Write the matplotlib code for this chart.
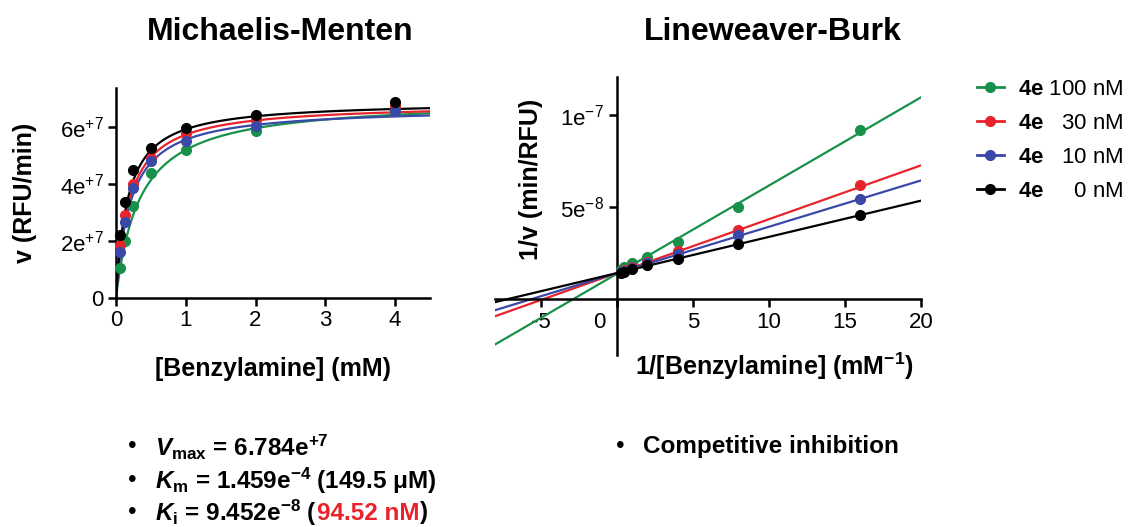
import numpy as np
import matplotlib
matplotlib.use("Agg")
import matplotlib.pyplot as plt
import matplotlib.transforms as mtransforms
from matplotlib.lines import Line2D

plt.rcParams['font.family'] = ['Liberation Sans', 'DejaVu Sans']
plt.rcParams['mathtext.fontset'] = 'custom'
plt.rcParams['mathtext.rm'] = 'Liberation Sans'
plt.rcParams['mathtext.it'] = 'Liberation Sans:italic'
plt.rcParams['mathtext.bf'] = 'Liberation Sans:bold'
plt.rcParams['mathtext.bfit'] = 'Liberation Sans:italic:bold'

# data
series = ['4e 100 nM', '4e 30 nM', '4e 10 nM', '4e 0 nM']
colors = ['#17914a', '#e8232b', '#3a48a8', '#000000']
legend_labels = ['$\\mathbf{4e}$ 100 nM', '$\\mathbf{4e}$   30 nM',
                 '$\\mathbf{4e}$   10 nM', '$\\mathbf{4e}$     0 nM']

substrate = [0.0625, 0.125, 0.25, 0.5, 1, 2, 4]  # mM

# Michaelis-Menten rates (RFU/min)
mm_green = [1.05e7, 1.99e7, 3.22e7, 4.39e7, 5.20e7, 5.85e7, 6.55e7]
mm_red = [1.85e7, 2.90e7, 4.01e7, 4.90e7, 5.79e7, 6.26e7, 6.73e7]
mm_blue = [1.60e7, 2.67e7, 3.87e7, 4.80e7, 5.50e7, 6.02e7, 6.58e7]
mm_black = [2.20e7, 3.36e7, 4.48e7, 5.25e7, 5.95e7, 6.41e7, 6.88e7]
mm_err_black = [0, 0, 0, 0, 0, 0, 0.12e7]

# fitted curves (Vmax, Km in mM) per series
fit_vmax = [6.98e7, 6.83e7, 6.70e7, 6.91e7]
fit_km = [0.343, 0.192, 0.206, 0.167]

# Lineweaver-Burk points (1/v) at 1/[S]
inv_s = [16, 8, 4, 2, 1, 0.5, 0.25]
lb_green = [9.22e-8, 5.01e-8, 3.14e-8, 2.29e-8, 1.96e-8, 1.74e-8, 1.60e-8]
lb_red = [6.19e-8, 3.74e-8, 2.60e-8, 2.05e-8, 1.78e-8, 1.60e-8, 1.50e-8]
lb_blue = [5.46e-8, 3.47e-8, 2.45e-8, 1.96e-8, 1.69e-8, 1.54e-8, 1.47e-8]
lb_black = [4.59e-8, 2.99e-8, 2.18e-8, 1.87e-8, 1.63e-8, 1.50e-8, 1.45e-8]
lb_slope = [4.80e-9, 2.93e-9, 2.52e-9, 1.97e-9]
lb_icpt = [1.38e-8, 1.42e-8, 1.42e-8, 1.42e-8]

mm_data = [mm_green, mm_red, mm_blue, mm_black]
lb_data = [lb_green, lb_red, lb_blue, lb_black]

fig = plt.figure(figsize=(11.3, 5.27), dpi=100)
W, H = 1130, 527
ax1 = fig.add_axes([116 / W, 1 - 298 / H, 314 / W, 210 / H])
ax2 = fig.add_axes([495 / W, 1 - 355 / H, 426 / W, 278.3 / H])

# ---- Michaelis-Menten
s_fit = np.linspace(0, 4.5, 400)
order = [3, 1, 2, 0]  # black first, green on top
for i in order:
    v_fit = fit_vmax[i] * s_fit / (fit_km[i] + s_fit)
    ax1.plot(s_fit, v_fit, color=colors[i], lw=1.6, zorder=2 + i * 0.1)
    ax1.plot(substrate, mm_data[i], 'o', color=colors[i], ms=7,
             zorder=3 + i * 0.1, clip_on=False)
ax1.errorbar(substrate, mm_black, yerr=mm_err_black, fmt='none',
             ecolor='black', elinewidth=1.5, capsize=3, zorder=2.5)

ax1.set_xlim(0, 4.5)
ax1.set_ylim(0, 7.37e7)
ax1.set_xticks([0, 1, 2, 3, 4])
ax1.set_xticklabels(['0', '1', '2', '3', '4'])
ax1.set_yticks([0, 2e7, 4e7, 6e7])
ax1.set_yticklabels(['0', '2e$^{+7}$', '4e$^{+7}$', '6e$^{+7}$'])
for sp in ['top', 'right']:
    ax1.spines[sp].set_visible(False)
for sp in ['left', 'bottom']:
    ax1.spines[sp].set_linewidth(1.8)
ax1.tick_params(width=1.8, length=6, labelsize=16, pad=3)
ax1.set_xlabel('[Benzylamine] (mM)', fontsize=18, fontweight='bold')
ax1.xaxis.set_label_coords(0.5, -0.28)
ax1.set_ylabel('v (RFU/min)', fontsize=18, fontweight='bold')
ax1.yaxis.set_label_coords(-0.25, 0.5)

# ---- Lineweaver-Burk
x_line = np.array([-8, 20])
for i in order:
    ax2.plot(x_line, lb_slope[i] * x_line + lb_icpt[i], color=colors[i],
             lw=1.6, zorder=2 + i * 0.1)
    ax2.plot(inv_s, lb_data[i], 'o', color=colors[i], ms=7,
             zorder=3 + i * 0.1)

ax2.set_xlim(-8, 20)
ax2.set_ylim(-3.03e-8, 1.21e-7)
ax2.spines['left'].set_position(('data', 0))
ax2.spines['bottom'].set_position(('data', 0))
for sp in ['top', 'right']:
    ax2.spines[sp].set_visible(False)
for sp in ['left', 'bottom']:
    ax2.spines[sp].set_linewidth(1.8)
ax2.set_xticks([-5, 0, 5, 10, 15, 20])
ax2.set_xticklabels(['-5', '0', '5', '10', '15', '20'])
ax2.set_yticks([5e-8, 1e-7])
ax2.set_yticklabels(['5e$^{-8}$', '1e$^{-7}$'])
ax2.tick_params(width=1.8, length=6, labelsize=16, pad=3)
zero_lbl = ax2.get_xticklabels()[1]
zero_lbl.set_transform(zero_lbl.get_transform() +
                       mtransforms.ScaledTranslation(-0.17, 0, fig.dpi_scale_trans))
ax2.set_xlabel('1/[Benzylamine] (mM$^{\\mathbf{-1}}$)', fontsize=18,
               fontweight='bold', va='top')
ax2.xaxis.set_label_coords(0.655, 0.015)
ax2.set_ylabel('1/v (min/RFU)', fontsize=18, fontweight='bold')
ax2.yaxis.set_label_coords(0.113, 0.63)

# titles
fig.text(280 / W, 1 - 32 / H, 'Michaelis-Menten', ha='center', va='center',
         fontsize=23, fontweight='bold')
fig.text(773 / W, 1 - 32 / H, 'Lineweaver-Burk', ha='center', va='center',
         fontsize=23, fontweight='bold')

# legend
handles = [Line2D([], [], color=c, lw=2, marker='o', ms=7) for c in colors]
fig.legend(handles, legend_labels, loc='upper left',
           bbox_to_anchor=(968 / W, 1 - 70 / H), frameon=False, fontsize=16,
           handlelength=1.2, handletextpad=0.65, labelspacing=0.58,
           borderaxespad=0)

# bullet notes
renderer = fig.canvas.get_renderer()


def put_pieces(x, y, pieces):
    for txt, col in pieces:
        t = fig.text(x / W, 1 - y / H, txt, fontsize=17.5, fontweight='bold',
                     color=col, va='center', ha='left')
        bb = t.get_window_extent(renderer=renderer)
        x = x + bb.width


rows_y = [447, 481, 513]
for yy in rows_y:
    fig.text(132 / W, 1 - yy / H, '\u2022', fontsize=17.5, va='center', ha='center')
fig.text(620 / W, 1 - rows_y[0] / H, '\u2022', fontsize=17.5, va='center', ha='center')

put_pieces(155, rows_y[0], [('$\\mathbfit{V}_{\\mathbf{max}}$ = 6.784e$^{\\mathbf{+7}}$', 'black')])
put_pieces(155, rows_y[1], [('$\\mathbfit{K}_{\\mathbf{m}}$ = 1.459e$^{\\mathbf{-4}}$ (149.5 \u03bcM)', 'black')])
put_pieces(155, rows_y[2], [('$\\mathbfit{K}_{\\mathbf{i}}$ = 9.452e$^{\\mathbf{-8}}$ (', 'black'),
                            ('94.52 nM', '#e8232b'), (')', 'black')])
fig.text(643 / W, 1 - rows_y[0] / H, 'Competitive inhibition', fontsize=17.5,
         fontweight='bold', va='center', ha='left')

fig.savefig('out.png', dpi=100)
